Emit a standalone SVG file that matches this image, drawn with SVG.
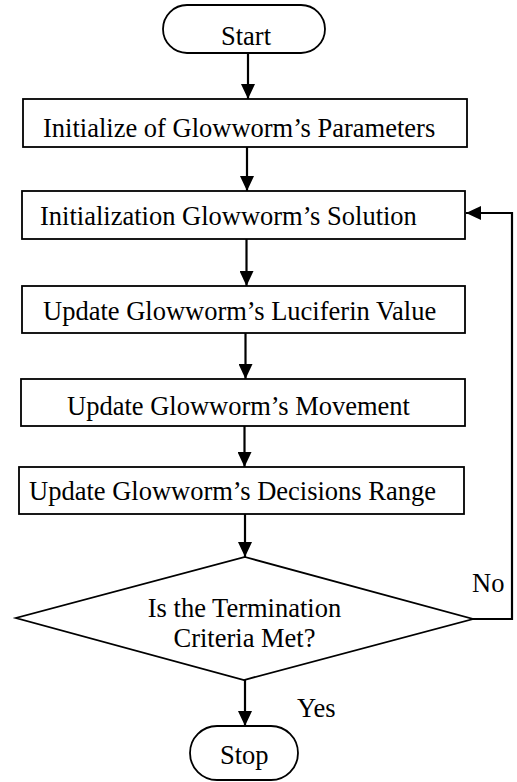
<svg xmlns="http://www.w3.org/2000/svg" width="517" height="782" viewBox="0 0 517 782">
<style>
.box{fill:#fff;stroke:#000;stroke-width:1.8}
.lbl{font-family:"Liberation Serif","Times New Roman",serif;font-size:26.5px;fill:#000}
.con{fill:none;stroke:#000;stroke-width:2.2}
</style>
<defs>
<marker id="ah" markerUnits="userSpaceOnUse" markerWidth="15" markerHeight="14" refX="15" refY="7" orient="auto">
<path d="M0,0 L15,7 L0,14 z" fill="#000"/>
</marker>
</defs>
<g id="start">
<rect class="box" x="163" y="5" width="162" height="48" rx="24" ry="24"/>
<text class="lbl" x="221" y="45">Start</text>
</g>
<g id="init-params">
<rect class="box" x="23" y="99" width="444" height="48"/>
<text class="lbl" x="43" y="137">Initialize of Glowworm’s Parameters</text>
</g>
<g id="init-solution">
<rect class="box" x="22" y="191" width="443" height="48"/>
<text class="lbl" x="40" y="225">Initialization Glowworm’s Solution</text>
</g>
<g id="update-luciferin">
<rect class="box" x="22" y="286" width="443" height="47"/>
<text class="lbl" x="43" y="320">Update Glowworm’s Luciferin Value</text>
</g>
<g id="update-movement">
<rect class="box" x="21" y="379" width="444" height="47"/>
<text class="lbl" x="67" y="415">Update Glowworm’s Movement</text>
</g>
<g id="update-range">
<rect class="box" x="19" y="467" width="445" height="47"/>
<text class="lbl" x="29" y="500">Update Glowworm’s Decisions Range</text>
</g>
<g id="decision">
<polygon class="box" points="245,557 473,619 244,680 16,618"/>
<text class="lbl" x="244.5" y="617" text-anchor="middle">Is the Termination</text>
<text class="lbl" x="244.5" y="647" text-anchor="middle">Criteria Met?</text>
</g>
<g id="stop">
<rect class="box" x="190" y="726" width="108" height="54" rx="27" ry="27"/>
<text class="lbl" x="220" y="764">Stop</text>
</g>
<g id="connectors">
<line class="con" x1="248" y1="53" x2="248" y2="99" marker-end="url(#ah)"/>
<line class="con" x1="247" y1="147" x2="247" y2="191" marker-end="url(#ah)"/>
<line class="con" x1="246.5" y1="239" x2="246.5" y2="286" marker-end="url(#ah)"/>
<line class="con" x1="245.5" y1="333" x2="245.5" y2="379" marker-end="url(#ah)"/>
<line class="con" x1="244.5" y1="426" x2="244.5" y2="467" marker-end="url(#ah)"/>
<line class="con" x1="245" y1="514" x2="245" y2="557" marker-end="url(#ah)"/>
<line class="con" x1="245" y1="680" x2="245" y2="726" marker-end="url(#ah)"/>
<polyline class="con" points="473,619 512,619 512,213 466,213" marker-end="url(#ah)"/>
<text class="lbl" x="472" y="592">No</text>
<text class="lbl" x="297" y="717">Yes</text>
</g>
</svg>
